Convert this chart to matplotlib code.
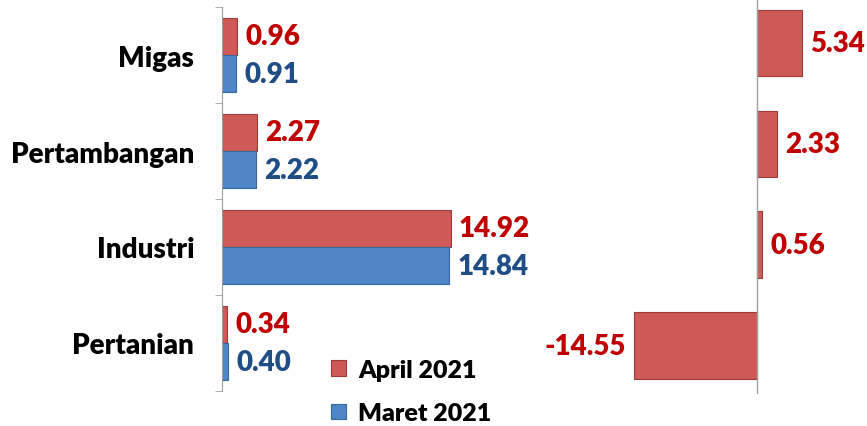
import matplotlib
matplotlib.use("Agg")
import matplotlib.pyplot as plt
import numpy as np

plt.rcParams["font.family"] = ["Lato", "DejaVu Sans"]
plt.rcParams["font.weight"] = "bold"

categories = ["Migas", "Pertambangan", "Industri", "Pertanian"]
april_2021 = [0.96, 2.27, 14.92, 0.34]
maret_2021 = [0.91, 2.22, 14.84, 0.40]
growth = [5.34, 2.33, 0.56, -14.55]

RED = "#CD5A57"
RED_EDGE = "#9E3B38"
BLUE = "#4F86C6"
BLUE_EDGE = "#36679E"
RED_TXT = "#C00000"
BLUE_TXT = "#1F4E86"

W, H = 867, 427
fig = plt.figure(figsize=(W / 100, H / 100), dpi=100)


def px_axes(left, top, right, bottom):
    return fig.add_axes([left / W, 1 - bottom / H, (right - left) / W, (bottom - top) / H])


# left panel: April vs Maret
ax = px_axes(222, 8, 513, 392)
y = np.arange(len(categories))
bh = 0.39
bars_a = ax.barh(y - bh / 2, april_2021, height=bh, color=RED, edgecolor=RED_EDGE,
                 linewidth=0.8, label="April 2021")
bars_m = ax.barh(y + bh / 2, maret_2021, height=bh, color=BLUE, edgecolor=BLUE_EDGE,
                 linewidth=0.8, label="Maret 2021")
ax.set_xlim(0, 19)
ax.set_ylim(3.5, -0.5)
for yi, v in zip(y, april_2021):
    ax.annotate(f"{v:.2f}", (v, yi - bh / 2), xytext=(6, 0), textcoords="offset points",
                ha="left", va="center", color=RED_TXT, fontsize=20, fontweight="heavy",
                annotation_clip=False)
for yi, v in zip(y, maret_2021):
    ax.annotate(f"{v:.2f}", (v, yi + bh / 2), xytext=(6, 0), textcoords="offset points",
                ha="left", va="center", color=BLUE_TXT, fontsize=20, fontweight="heavy",
                annotation_clip=False)

ax.set_yticks(y)
ax.set_yticklabels(categories, fontsize=20, fontweight="heavy")
ax.set_yticks(np.arange(-0.5, len(categories), 1.0), minor=True)
ax.tick_params(axis="y", which="major", length=0, pad=20)
ax.tick_params(axis="y", which="minor", length=5, color="#A0A0A0", direction="out")
ax.set_xticks([])
for s in ["top", "right", "bottom"]:
    ax.spines[s].set_visible(False)
ax.spines["left"].set_color("#A0A0A0")

# right panel: growth
ax2 = px_axes(560, 0, W, 395)
ax2.barh(y, growth, height=0.66, color=RED, edgecolor=RED_EDGE, linewidth=0.8)
ax2.set_xlim(-(757 - 560) / 8.45, (W - 757) / 8.45)
ax2.set_ylim(3.48, -0.437)
for yi, v in zip(y, growth):
    if v >= 0:
        ax2.annotate(f"{v:.2f}", (v, yi), xytext=(6, 0), textcoords="offset points",
                     ha="left", va="center", color=RED_TXT, fontsize=20, fontweight="heavy",
                     annotation_clip=False)
    else:
        ax2.annotate(f"{v:.2f}", (v, yi), xytext=(-6, 0), textcoords="offset points",
                     ha="right", va="center", color=RED_TXT, fontsize=20, fontweight="heavy",
                     annotation_clip=False)
ax2.axvline(0, color="#A0A0A0", linewidth=1)
ax2.set_xticks([])
ax2.set_yticks([])
for s in ax2.spines.values():
    s.set_visible(False)

fig.legend(handles=[bars_a, bars_m], loc="upper left", bbox_to_anchor=(331 / W, 1 - 360 / H),
           frameon=False, handlelength=0.6, handleheight=0.6,
           handletextpad=0.5, labelspacing=0.85, borderpad=0, borderaxespad=0,
           prop={"weight": "heavy", "size": 18})

fig.savefig("out.png", dpi=100)
